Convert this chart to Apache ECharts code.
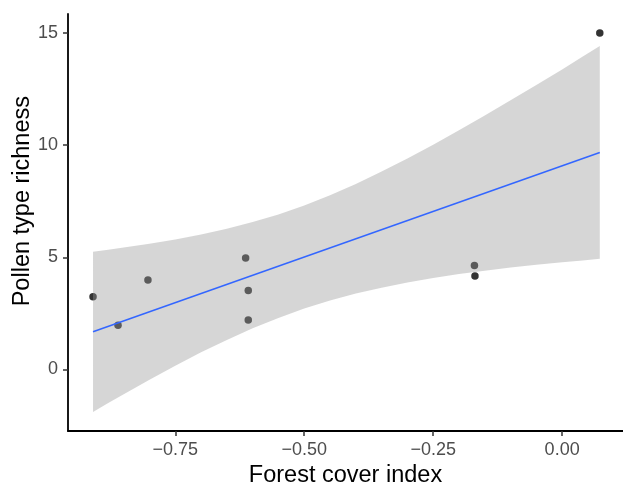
<!DOCTYPE html>
<html>
<head>
<meta charset="utf-8">
<script src="https://cdn.jsdelivr.net/npm/echarts@6/dist/echarts.min.js"></script>
<style>
  html, body { margin: 0; padding: 0; background: #ffffff; }
  #chart { width: 623px; height: 484px; }
</style>
</head>
<body>
<div id="chart"></div>
<script>
// Observed data points
const pointX = [-0.9095, -0.861, -0.803, -0.6136, -0.6085, -0.6085, -0.170, -0.169, 0.073];
const pointY = [3.24, 1.97, 3.98, 4.97, 3.52, 2.20, 4.63, 4.16, 15.0];

// Fitted line
const fitX = [-0.9095, 0.073];
const fitY = [1.68, 9.67];

// Confidence band
const bandX     = [-0.9095, -0.88, -0.85, -0.8, -0.75, -0.7, -0.65, -0.6, -0.55, -0.5, -0.45, -0.4, -0.35, -0.3, -0.25, -0.2, -0.15, -0.1, -0.05, 0.0, 0.04, 0.073];
const bandLower = [-1.90, -1.50, -1.11, -0.46, 0.16, 0.76, 1.31, 1.83, 2.29, 2.71, 3.07, 3.38, 3.64, 3.87, 4.07, 4.25, 4.40, 4.54, 4.66, 4.78, 4.86, 4.93];
const bandUpper = [5.25, 5.34, 5.43, 5.60, 5.79, 6.01, 6.27, 6.57, 6.91, 7.31, 7.77, 8.27, 8.82, 9.40, 10.02, 10.66, 11.32, 12.00, 12.68, 13.38, 13.95, 14.42];

// Tick values
const xTicks = [-0.75, -0.5, -0.25, 0];
const yTicks = [0, 5, 10, 15];

const xTitle = 'Forest cover index';
const yTitle = 'Pollen type richness';

const chart = echarts.init(document.getElementById('chart'), null, { renderer: 'canvas' });

const fmtX = v => (v < 0 ? '\u2212' : '') + Math.abs(v).toFixed(2);

const bandData = bandX.map((x, i) => [x, bandLower[i], bandUpper[i]]);

const FONT = 'Liberation Sans, Arial, sans-serif';

const option = {
  animation: false,
  backgroundColor: '#ffffff',
  grid: { left: 68, right: 0, top: 14, bottom: 53, containLabel: false, outerBoundsMode: 'none' },
  xAxis: {
    type: 'value',
    min: -0.958,
    max: 0.118,
    name: xTitle,
    nameLocation: 'middle',
    nameGap: 27,
    nameTextStyle: { color: '#000000', fontSize: 23.5, fontFamily: FONT },
    axisLine: { show: true, onZero: false, lineStyle: { color: '#000000', width: 1.8 } },
    axisTick: { show: true, length: 5, customValues: xTicks, lineStyle: { color: '#333333', width: 1.5 } },
    axisLabel: { show: true, customValues: xTicks, margin: 10, formatter: fmtX, color: '#4D4D4D', fontSize: 18, fontFamily: FONT },
    splitLine: { show: false }
  },
  yAxis: {
    type: 'value',
    min: -2.75,
    max: 15.85,
    axisLine: { show: true, onZero: false, lineStyle: { color: '#000000', width: 1.8 } },
    axisTick: { show: true, length: 5, customValues: yTicks, lineStyle: { color: '#333333', width: 1.5 } },
    axisLabel: { show: true, customValues: yTicks, margin: 10, color: '#4D4D4D', fontSize: 18, fontFamily: FONT },
    splitLine: { show: false }
  },
  graphic: [{
    type: 'text',
    left: 11,
    top: 96,
    rotation: Math.PI / 2,
    style: {
      text: yTitle,
      fill: '#000000',
      font: '23.5px "Liberation Sans", Arial, sans-serif'
    }
  }],
  series: [
    {
      type: 'scatter',
      z: 1,
      symbol: 'circle',
      symbolSize: 7.5,
      itemStyle: { color: '#000000' },
      data: pointX.map((x, i) => [x, pointY[i]])
    },
    {
      type: 'custom',
      z: 2,
      silent: true,
      encode: { x: 0, y: [1, 2] },
      data: bandData,
      renderItem: function (params, api) {
        if (params.dataIndex !== 0) return null;
        const pts = [];
        for (let i = 0; i < bandData.length; i++) pts.push(api.coord([bandData[i][0], bandData[i][2]]));
        for (let i = bandData.length - 1; i >= 0; i--) pts.push(api.coord([bandData[i][0], bandData[i][1]]));
        return {
          type: 'polygon',
          shape: { points: pts },
          style: { fill: 'rgba(153,153,153,0.4)', stroke: 'none' }
        };
      }
    },
    {
      type: 'line',
      z: 3,
      symbol: 'none',
      lineStyle: { color: '#3366FF', width: 1.5 },
      data: fitX.map((x, i) => [x, fitY[i]])
    }
  ]
};

chart.setOption(option);
</script>
</body>
</html>
